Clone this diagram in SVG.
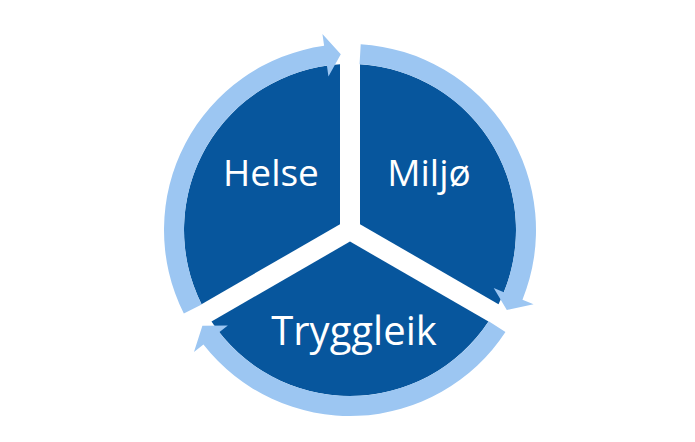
<svg xmlns="http://www.w3.org/2000/svg" width="695" height="442" viewBox="0 0 695 442">
  <style>
    .sector { fill: #07569D; }
    .ring { fill: #9CC6F2; }
    .label { fill: #FFFFFF; font-family: "Open Sans", "Noto Sans", "Liberation Sans", sans-serif; text-anchor: middle; }
  </style>
  <rect width="695" height="442" fill="#FFFFFF"/>
  <g id="node-helse">
    <path class="sector" d="M340,224.23 L201.50,304.18 A166,166 0 0 1 340,64.30 Z"/>
    <text class="label" x="271" y="186" font-size="37">Helse</text>
  </g>
  <g id="node-miljo">
    <path class="sector" d="M360,224.23 L360,64.30 A166,166 0 0 1 498.50,304.19 Z"/>
    <text class="label" x="429" y="186" font-size="37">Miljø</text>
  </g>
  <g id="node-tryggleik">
    <path class="sector" d="M350,241.55 L488.50,321.51 A166,166 0 0 1 211.50,321.51 Z"/>
    <text class="label" x="354" y="345" font-size="40">Tryggleik</text>
  </g>
  <g id="connectors">
    <path class="ring" d="M360.71,44.31 A186,186 0 0 1 522.46,299.68 L533.58,304.17 L506.82,309.90 L493.71,288.06 L503.91,292.19 A166,166 0 0 0 359.56,64.28 Z"/>
    <path class="ring" d="M505.46,332.12 A186,186 0 0 1 203.43,344.51 L193.97,351.90 L202.39,325.86 L227.86,325.43 L219.19,332.20 A166,166 0 0 0 488.74,321.14 Z"/>
    <path class="ring" d="M183.83,313.57 A186,186 0 0 1 324.11,45.81 L322.44,33.93 L340.79,54.24 L328.43,76.51 L326.90,65.62 A166,166 0 0 0 201.70,304.59 Z"/>
  </g>
</svg>
